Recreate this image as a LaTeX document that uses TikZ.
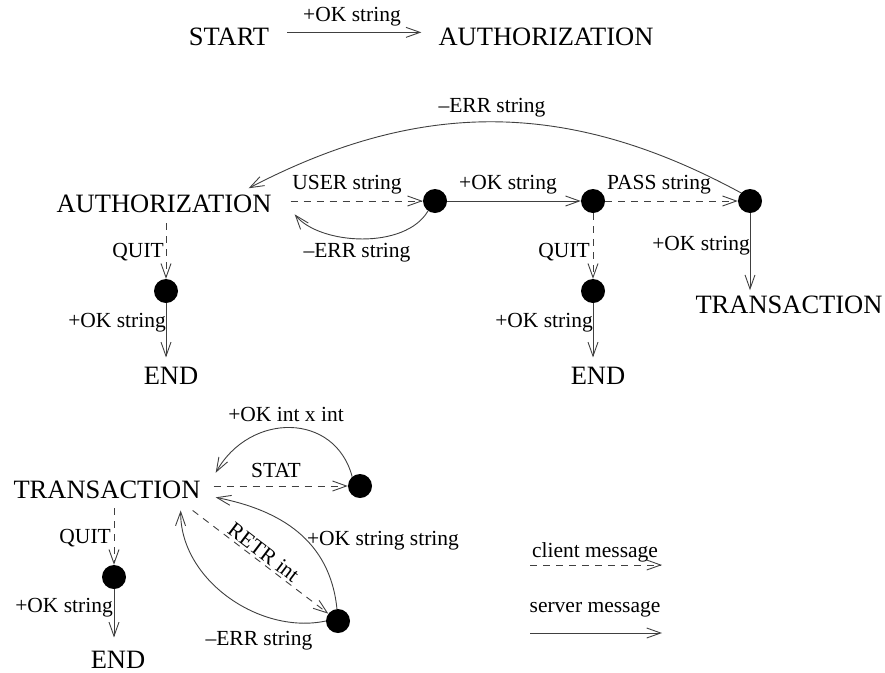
\documentclass[tikz,border=0pt]{standalone}
\usepackage{fontspec}
\setmainfont{Liberation Serif}
\usetikzlibrary{arrows.meta,calc}
\begin{document}
\begin{tikzpicture}[x=1pt,y=-1pt,
  big/.style={font=\fontsize{26.5}{30}\selectfont, inner sep=0pt, anchor=base},
  lbl/.style={font=\fontsize{21.5}{25}\selectfont, inner sep=0pt, anchor=base},
  dot/.style={circle, fill=black, minimum size=24pt, inner sep=0pt},
  msg/.style={draw=black!75, line width=0.9pt, -{Straight Barb[length=14pt,width=10pt]}},
  srv/.style={msg},
  cli/.style={msg, dash pattern=on 7pt off 6pt},
]
\useasboundingbox (0,0) rectangle (885,672);

% ---------- top ----------
\node[big] (start) at (229,45) {START};
\node[big] (authA) at (546,45) {AUTHORIZATION};
\draw[srv] ($(start.east)+(18,-4)$) -- ($(authA.west)+(-17,-4)$);
\node[lbl] (lokA) at (352,21) {+OK string};

% ---------- authorization ----------
\node[big] (auth) at (164,212) {AUTHORIZATION};
\node[dot] (d1) at (435,201) {};
\node[dot] (d2) at (593,201) {};
\node[dot] (d3) at (750,201) {};
\draw[cli] ($(auth.east |- d1)+(19,0)$) -- (d1);
\draw[srv] (d1) -- (d2);
\draw[cli] (d2) -- (d3);
\node[lbl] (luser) at (347,189) {USER string};
\node[lbl] (lok1) at (508,189) {+OK string};
\node[lbl] (lpass) at (659,189) {PASS string};
\draw[srv] (d3.138) .. controls (568,99) and (420,99) .. ($(auth.north east)+(-23,-6)$);
\node[lbl] (lerr1) at (492,112) {–ERR string};
\draw[srv] (d1.235) .. controls (405,250) and (320,245) .. ($(auth.east)+(23,11)$);
\node[lbl] (lerr2) at (357,257) {–ERR string};

\node[dot] (q1) at (166,291) {};
\draw[cli] ($(q1 |- auth.south)+(0,11)$) -- (q1);
\node[lbl, anchor=base east] (lq1) at (164,257) {QUIT};
\node[big] (end1) at (171,384) {END};
\draw[srv] (q1) -- ($(q1 |- end1.north)+(0,-9)$);
\node[lbl, anchor=base east] (lok2) at (166,327) {+OK string};

\node[dot] (q2) at (593,291) {};
\draw[cli] (d2) -- (q2);
\node[lbl, anchor=base east] (lq2) at (590,257) {QUIT};
\node[big] (end2) at (598,384) {END};
\draw[srv] (q2) -- ($(q2 |- end2.north)+(0,-9)$);
\node[lbl, anchor=base east] (lok3) at (593,327) {+OK string};

\node[big] (trans1) at (789,313) {TRANSACTION};
\draw[srv] (d3) -- ($(d3 |- trans1.north)+(0,-5)$);
\node[lbl, anchor=base east] (lok4) at (750,250) {+OK string};

% ---------- transaction ----------
\node[big] (trans2) at (107,498) {TRANSACTION};
\node[dot] (s1) at (360,486) {};
\node[dot] (r1) at (338,621) {};
\node[dot] (q3) at (114,577) {};
\node[big] (end3) at (118,668) {END};

\draw[cli] ($(trans2.east |- s1)+(13,0)$) -- (s1);
\node[lbl] (lstat) at (276,477) {STAT};
\draw[srv] (s1.130) .. controls (335,412) and (250,412) .. ($(trans2.north east)+(15,-7.5)$);
\node[lbl] (lokii) at (286,421) {+OK int x int};

\draw[cli] ($(trans2.south east)+(-8,12)$) -- (r1)
  node[pos=0.48, sloped, above=2pt, inner sep=0pt, font=\fontsize{21.5}{25}\selectfont] (lretr) {RETR int};
\draw[srv] (r1.95) .. controls (330,540) and (280,510) .. ($(trans2.east)+(15,8)$);
\node[lbl] (lokss) at (383,545) {+OK string string};
\draw[srv] (r1.180) .. controls (260,635) and (180,580) .. ($(trans2.south east)+(-20,12)$);
\node[lbl] (lerr3) at (259,645) {–ERR string};

\draw[cli] ($(q3 |- trans2.south)+(0,10)$) -- (q3);
\node[lbl, anchor=base east] (lq3) at (111,543) {QUIT};
\draw[srv] (q3) -- ($(q3 |- end3.north)+(0,-13)$);
\node[lbl, anchor=base east] (lok5) at (113,612) {+OK string};

% ---------- legend ----------
\node[lbl] (cm) at (595,557) {client message};
\coordinate (c1a) at (530,565);
\coordinate (c1b) at (662,565);
\draw[cli] (c1a) -- (c1b);
\node[lbl] (sm) at (595,612) {server message};
\coordinate (c2a) at (530,633);
\coordinate (c2b) at (662,633);
\draw[srv] (c2a) -- (c2b);
\end{tikzpicture}
\end{document}
